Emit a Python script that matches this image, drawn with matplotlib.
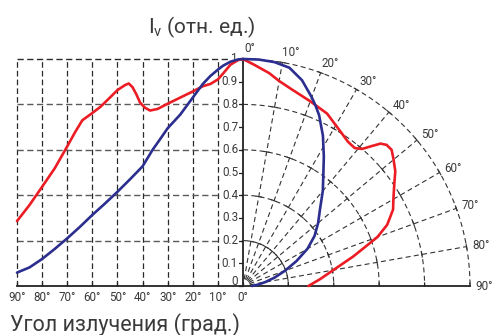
import numpy as np
import matplotlib
matplotlib.use('Agg')
import matplotlib.pyplot as plt

plt.rcParams['font.family'] = ['Roboto', 'DejaVu Sans']
plt.rcParams['mathtext.fontset'] = 'custom'
plt.rcParams['mathtext.rm'] = 'Roboto'
plt.rcParams['mathtext.it'] = 'Roboto:italic'

# ---------------- data ----------------
# Cartesian half (left): angle in degrees, relative intensity
cart_blue_angle = [0, 2, 5, 8, 10, 13, 16, 19, 22, 25, 30, 33, 36, 40, 45, 50, 55, 60, 65, 70, 75, 80, 85, 90]
cart_blue_value = [1.0, 0.998, 0.988, 0.97, 0.953, 0.925, 0.89, 0.845, 0.80, 0.755, 0.695, 0.647, 0.60, 0.527,
                   0.47, 0.415, 0.363, 0.313, 0.26, 0.21, 0.163, 0.119, 0.082, 0.059]

cart_red_angle = [0, 2, 5, 8, 10, 13, 16, 20, 25, 30, 34, 37, 39, 41, 42.5, 44, 45.5, 47, 50, 53, 56.7,
                  60, 64, 67, 70, 75, 80, 85, 90]
cart_red_value = [1.0, 0.995, 0.975, 0.935, 0.91, 0.89, 0.88, 0.857, 0.83, 0.803, 0.78, 0.773, 0.785, 0.808,
                  0.845, 0.876, 0.892, 0.885, 0.863, 0.83, 0.79, 0.762, 0.73, 0.675, 0.615, 0.518, 0.437,
                  0.357, 0.286]

# Polar half (right)
polar_blue_angle = [0, 4, 8, 12, 16, 20, 22, 24, 28, 32, 36, 40, 45, 50, 55, 60, 65, 70, 75, 80, 85, 90]
polar_blue_value = [1.0, 1.0, 0.996, 0.983, 0.943, 0.885, 0.855, 0.824, 0.75, 0.672, 0.602, 0.547, 0.48,
                    0.432, 0.385, 0.328, 0.26, 0.197, 0.145, 0.10, 0.065, 0.04]

polar_red_angle = [0, 3, 7, 10, 14, 20, 26, 32, 36, 39, 41, 42.5, 44, 45.5, 47.5, 50, 53, 56, 60, 63,
                   67, 70, 75, 80, 85, 90]
polar_red_value = [1.0, 0.975, 0.945, 0.917, 0.892, 0.866, 0.845, 0.806, 0.786, 0.782, 0.80, 0.835, 0.872,
                   0.887, 0.888, 0.866, 0.84, 0.804, 0.765, 0.742, 0.69, 0.63, 0.503, 0.404, 0.34, 0.288]

angle_ticks = [0, 10, 20, 30, 40, 50, 60, 70, 80, 90]
angle_labels = ['0°', '10°', '20°', '30°', '40°', '50°', '60°', '70°', '80°', '90°']
y_ticks = [0, 0.1, 0.2, 0.3, 0.4, 0.5, 0.6, 0.7, 0.8, 0.9, 1.0]
y_labels = ['0', '0.1', '0.2', '0.3', '0.4', '0.5', '0.6', '0.7', '0.8', '0.9', '1']
grid_levels = [0.2, 0.4, 0.6, 0.8, 1.0]
spokes = [10, 20, 30, 40, 50, 60, 70, 80]

title_text = r'$\mathregular{I_v}$ (отн. ед.)'
xlabel_text = 'Угол излучения (град.)'

# ---------------- styling ----------------
RED = '#ec1c24'
BLUE = '#2b2e8e'
TXT = '#3a3a3a'
AX = '#222222'
GRID_V = '#2a2a2a'
GRID_H = '#5a5a5a'
FS_TICK = 8.4

W, H = 494, 335
fig = plt.figure(figsize=(W / 100, H / 100), dpi=100)
ox, oy, R = 243, 286, 227     # origin and unit radius in pixels
L = 226                       # width of the cartesian half

# ---------------- cartesian half ----------------
ax = fig.add_axes([(ox - L) / W, (H - oy) / H, L / W, R / H])
ax.set_xlim(90, 0)
ax.set_ylim(0, 1)
for a in angle_ticks[1:]:
    ax.axvline(a, color=GRID_V, lw=0.9, ls=(0, (4.5, 2.5)), clip_on=False, zorder=1)
for v in grid_levels:
    ax.axhline(v, color=GRID_H if v < 1 else GRID_V, lw=1.0, ls=(0, (4.5, 2.5)), clip_on=False, zorder=1)

for s in ['top', 'left']:
    ax.spines[s].set_visible(False)
for s in ['bottom', 'right']:
    ax.spines[s].set_color(AX)
    ax.spines[s].set_linewidth(1.3)
    ax.spines[s].set_zorder(5)

ax.set_xticks(angle_ticks)
ax.set_xticklabels(angle_labels)
ax.tick_params(axis='x', direction='in', length=3, width=0.9, color=AX, pad=3.5,
               labelsize=FS_TICK, labelcolor=TXT)
ax.yaxis.set_ticks_position('right')
ax.set_yticks(y_ticks)
ax.tick_params(axis='y', direction='in', length=4, width=0.9, color=AX, labelright=False)
for v, lab in zip(y_ticks, y_labels):
    dy = 3.5 if v == 0 else 0
    ax.annotate(lab, (0, v), xytext=(-3.6, dy), textcoords='offset points', ha='right', va='center',
                fontsize=FS_TICK, color=TXT, zorder=4,
                bbox=dict(fc='white', ec='none', pad=0.5))

ax.plot(cart_red_angle, cart_red_value, color=RED, lw=1.9, zorder=6, solid_joinstyle='round',
        solid_capstyle='round', clip_on=False)
ax.plot(cart_blue_angle, cart_blue_value, color=BLUE, lw=1.9, zorder=6, solid_joinstyle='round',
        solid_capstyle='round', clip_on=False)

# ---------------- polar half ----------------
pax = fig.add_axes([ox / W, (H - oy) / H, R / W, R / H], projection='polar')
pax.set_theta_zero_location('N')
pax.set_theta_direction(-1)
pax.set_thetamin(0)
pax.set_thetamax(90)
pax.set_ylim(0, 1)
pax.axis('off')

th = np.linspace(0, np.pi / 2, 300)
for r in grid_levels:
    pax.plot(th, np.full_like(th, r), color='#333333', lw=0.8, ls=(0, (4.5, 3)), clip_on=False)
tick_len = 2.6 / R
for a in spokes:
    t = np.deg2rad(a)
    pax.plot([t, t], [0.03, 1.0], color='#333333', lw=0.8, ls=(0, (4.5, 3)), clip_on=False)
    for r in grid_levels:
        d = tick_len / r
        pax.plot([t - d, t + d], [r, r], color='#333333', lw=0.8, clip_on=False)
# horizontal (90°) axis
pax.plot([np.pi / 2, np.pi / 2], [0, 1], color=AX, lw=1.3, clip_on=False, zorder=5)
for r in grid_levels:
    pax.plot([np.pi / 2, np.pi / 2 - 3.0 / R / r], [r, r], color=AX, lw=0.9, clip_on=False, zorder=5)

for a, lab in zip(angle_ticks, angle_labels):
    ta = np.deg2rad(a + 1.6 * np.cos(np.deg2rad(a)))
    rr = 1.048 + 0.016 * np.sin(np.deg2rad(a))
    pax.text(ta, rr, lab, ha='center', va='center', fontsize=FS_TICK, color=TXT, clip_on=False)

pax.plot(np.deg2rad(polar_red_angle), polar_red_value, color=RED, lw=1.9, zorder=6,
         solid_joinstyle='round', solid_capstyle='round', clip_on=False)
pax.plot(np.deg2rad(polar_blue_angle), polar_blue_value, color=BLUE, lw=1.9, zorder=6,
         solid_joinstyle='round', solid_capstyle='round', clip_on=False)

# ---------------- texts ----------------
fig.text(148 / W, 1 - 33 / H, title_text, ha='left', va='baseline', fontsize=15, color=TXT)
fig.text(10 / W, 1 - 331 / H, xlabel_text, ha='left', va='baseline', fontsize=15.5, color=TXT)

fig.savefig('out.png', dpi=100)
